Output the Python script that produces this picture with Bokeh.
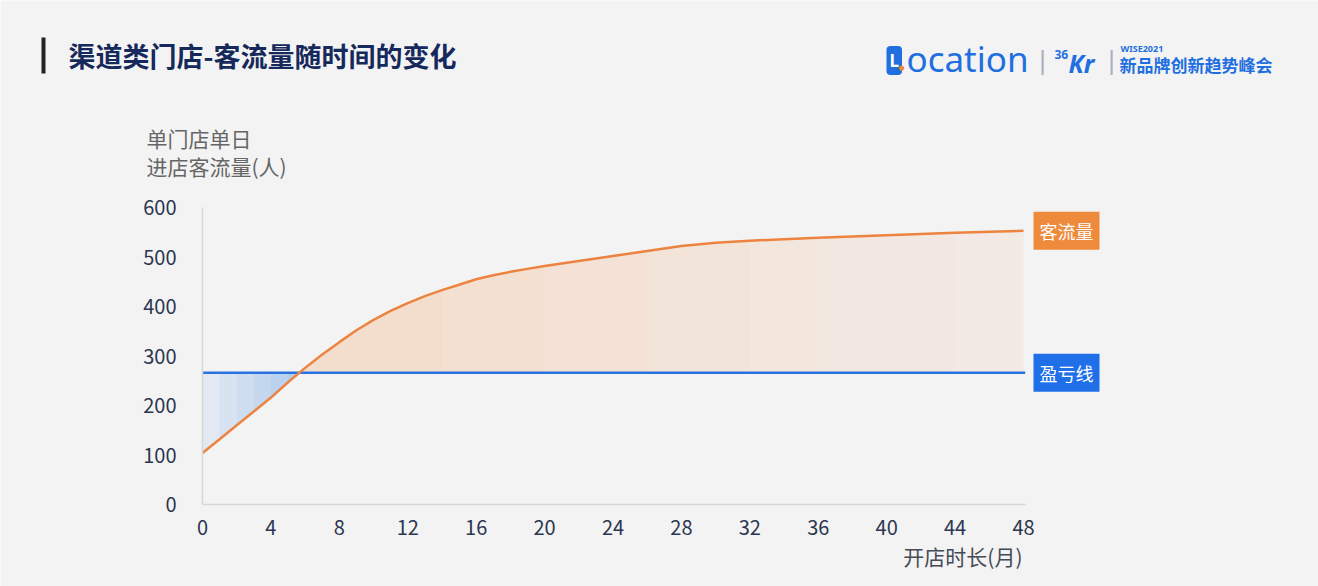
import numpy as np
from bokeh.plotting import figure
from bokeh.models import Label, BoxAnnotation, Range1d
from bokeh.embed import file_html
from bokeh.resources import INLINE

# ---------------- data ----------------
months = [0, 1, 2, 3, 4, 5, 6, 7, 8, 9, 10, 11, 12, 13, 14, 15, 16, 17, 18, 19, 20,
          21, 22, 23, 24, 25, 26, 27, 28, 30, 32, 34, 36, 40, 44, 48]
traffic = [104, 132, 160, 188, 216, 247, 276, 303, 328, 352, 373, 391, 407, 421, 433, 444, 455,
           463, 470, 476, 482, 487, 492, 497, 502, 507, 512, 517, 522, 529, 533, 536, 539, 544, 549, 553]
breakeven = 266
x_ticks = list(range(0, 49, 4))
y_ticks = list(range(0, 601, 100))

title_text = "渠道类门店-客流量随时间的变化"
y_label_lines = ["单门店单日", "进店客流量(人)"]
x_label_text = "开店时长(月)"
curve_name = "客流量"
line_name = "盈亏线"
logo_l = "L"
logo_rest = "ocation"
logo_36 = "36"
logo_kr = "Kr"
logo_wise = "WISE2021"
logo_summit = "新品牌创新趋势峰会"

# ---------------- style / geometry ----------------
BG = "#f3f3f3"
ORANGE = "#ec8440"
ORANGE_BOX = "#ee8a3c"
BLUE = "#2a72e0"
BLUE_FILL = "#1a6ff2"
BLUE_BOX = "#1f6fe8"
LOGO_BLUE = "#1f6fe0"
CJK = "Noto Sans CJK SC"
W, H = 1318, 586
X0_PX, X48_PX = 202, 1023      # page pixel of month 0 / month 48
Y0_PX, Y600_PX = 504, 207      # page pixel of value 0 / value 600
sx = (X48_PX - X0_PX) / 48.0
sy = (Y0_PX - Y600_PX) / 600.0


def dx(px):
    return (px - X0_PX) / sx


def dy(py):
    return (Y0_PX - py) / sy


p = figure(width=W, height=H, output_backend="svg", toolbar_location=None,
           x_range=Range1d(dx(0), dx(W)), y_range=Range1d(dy(H), dy(0)),
           min_border=0)
p.background_fill_color = BG
p.border_fill_color = BG
p.outline_line_color = None
p.grid.visible = False

for ax in (p.xaxis, p.yaxis):
    ax.fixed_location = 0
    ax.axis_line_color = "#d6d6d6"
    ax.axis_line_width = 1.5
    ax.major_tick_line_color = None
    ax.minor_tick_line_color = None
    ax.major_label_text_font = CJK
    ax.major_label_text_font_size = "20px"
    ax.major_label_text_color = "#2b3650"
p.xaxis.ticker = x_ticks
p.yaxis.ticker = y_ticks
p.xaxis.bounds = (0, months[-1] + 0.1)
p.yaxis.bounds = (0, 600)
p.yaxis.major_label_standoff = 20
p.xaxis.major_label_standoff = 9

m = np.array(months, dtype=float)
t = np.array(traffic, dtype=float)
k = int(np.argmax(t > breakeven))
xi = float(np.interp(breakeven, t[:k + 1], m[:k + 1]))

# profit region (orange), fading to the right
up_x = np.concatenate([[xi], m[k:]])
up_y = np.concatenate([[breakeven], t[k:]])
p.varea(x=up_x, y1=breakeven, y2=up_y, fill_color=ORANGE, fill_alpha=0.08)
for cut in [14, 20, 26, 32, 38, 44]:
    sel = up_x <= cut
    p.varea(x=up_x[sel], y1=breakeven, y2=up_y[sel], fill_color=ORANGE, fill_alpha=0.018)

# loss region (blue), stronger towards the crossing
lo_x = np.concatenate([m[:k], [xi]])
lo_y = np.concatenate([t[:k], [breakeven]])
p.varea(x=lo_x, y1=lo_y, y2=breakeven, fill_color=BLUE_FILL, fill_alpha=0.07)
for start in [1, 2, 3, 4, 5]:
    sel = lo_x >= start
    p.varea(x=lo_x[sel], y1=lo_y[sel], y2=breakeven, fill_color=BLUE_FILL, fill_alpha=0.05)

# lines
p.segment(x0=[months[0]], y0=[breakeven], x1=[months[-1] + 0.1], y1=[breakeven],
          line_color=BLUE, line_width=2.5)
p.line(months, traffic, line_color=ORANGE, line_width=2.5)

label_x = dx(1033)
p.add_layout(Label(x=label_x, y=traffic[-1], text=curve_name, text_align="left", text_baseline="middle",
                   text_font=CJK, text_font_size="18px", text_color="white",
                   background_fill_color=ORANGE_BOX, padding=6))
p.add_layout(Label(x=label_x, y=breakeven, text=line_name, text_align="left", text_baseline="middle",
                   text_font=CJK, text_font_size="18px", text_color="white",
                   background_fill_color=BLUE_BOX, padding=6))

# ---------------- header texts ----------------
p.add_layout(BoxAnnotation(left=dx(41), right=dx(45), top=dy(37), bottom=dy(73),
                           fill_color="#222222", fill_alpha=1, line_color=None))
p.add_layout(Label(x=dx(68), y=dy(55), text=title_text, text_font=CJK, text_font_size="27px",
                   text_font_style="bold", text_color="#16295c", text_baseline="middle"))
for i, line in enumerate(y_label_lines):
    p.add_layout(Label(x=dx(146), y=dy(137 + 28 * i), text=line, text_font=CJK, text_font_size="21px",
                       text_color="#666666", text_baseline="middle"))
p.add_layout(Label(x=dx(1022), y=dy(555), text=x_label_text, text_font=CJK, text_font_size="21px",
                   text_color="#454a55", text_align="right", text_baseline="middle"))

# ---------------- logo ----------------
p.add_layout(Label(x=dx(886), y=dy(60), text=logo_l, text_font="Noto Sans", text_font_size="17px",
                   text_font_style="bold", text_color="white", text_baseline="middle",
                   background_fill_color=LOGO_BLUE, border_radius=4, padding=3))
p.add_layout(Label(x=dx(898), y=dy(67), text="●", text_font="DejaVu Sans", text_font_size="7px",
                   text_color="#f08a30", text_baseline="middle"))
p.add_layout(Label(x=dx(906), y=dy(58), text=logo_rest, text_font="Noto Sans", text_font_size="35px",
                   text_color=LOGO_BLUE, text_baseline="middle"))
for sxp in (1042, 1111):
    p.add_layout(Label(x=dx(sxp), y=dy(60), text="|", text_font="DejaVu Sans", text_font_size="24px",
                       text_color="#a8b0c0", text_baseline="middle", text_align="center"))
p.add_layout(Label(x=dx(1054), y=dy(54), text=logo_36, text_font="Noto Sans", text_font_size="12px",
                   text_font_style="bold", text_color=LOGO_BLUE, text_baseline="middle"))
p.add_layout(Label(x=dx(1068), y=dy(62), text=logo_kr, text_font="Noto Sans", text_font_size="25px",
                   text_font_style="bold italic", text_color=LOGO_BLUE, text_baseline="middle"))
p.add_layout(Label(x=dx(1120), y=dy(48), text=logo_wise, text_font="Noto Sans", text_font_size="9px",
                   text_font_style="bold", text_color=LOGO_BLUE, text_baseline="middle"))
p.add_layout(Label(x=dx(1119), y=dy(64), text=logo_summit, text_font=CJK, text_font_size="17px",
                   text_font_style="bold", text_color=LOGO_BLUE, text_baseline="middle"))

open("out.html", "w").write(file_html(p, INLINE))
